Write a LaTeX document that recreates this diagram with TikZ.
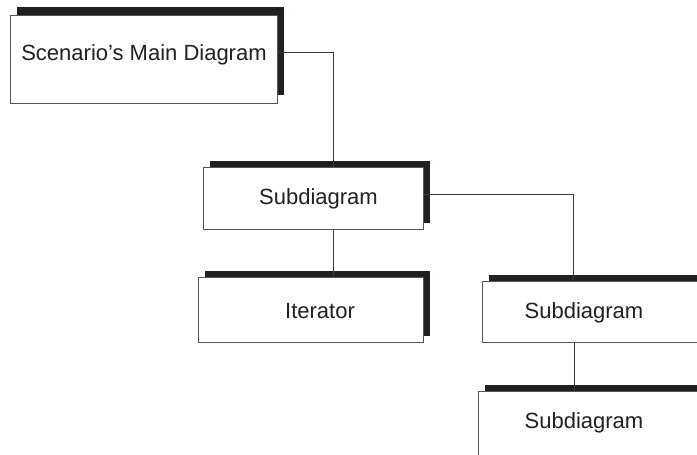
\documentclass[tikz,border=0pt]{standalone}
\usepackage{fontspec}
\setmainfont{Liberation Sans}
\usepackage{tikz}
\usetikzlibrary{positioning, calc, shadows}
\definecolor{sombra}{HTML}{231F20}
\definecolor{borde}{HTML}{555555}
\definecolor{linea}{HTML}{3A3A3A}
\definecolor{texto}{HTML}{231F20}
\tikzset{
  caja/.style={rectangle, draw=borde, line width=1pt, fill=white, inner sep=0pt,
    drop shadow={shadow xshift=7pt, shadow yshift=#1, opacity=1, fill=sombra}},
  caja/.default=6pt,
  etiqueta/.style={font=\fontsize{22}{26}\selectfont, text=texto, inner sep=0pt,
    text height=15.75pt, text depth=0pt},
  conector/.style={draw=linea, line width=1pt}
}

\begin{document}
\begin{tikzpicture}[x=1pt, y=-1pt]
    \useasboundingbox (0,0) rectangle (697,455);
    \clip (0,0) rectangle (697,455);

    % ==========================================
    % 1. Cajas con sombra
    % ==========================================
    \node[caja=8pt, minimum width=267pt, minimum height=88pt] (principal) at (143.5, 59) {};
    \node[caja, minimum width=220pt, minimum height=62pt] (sub1) at (313, 198) {};
    \node[caja, minimum width=225pt, minimum height=65pt] (iter) at (310.5, 309.5) {};
    \node[caja, minimum width=225pt, minimum height=61pt] (sub2) at (594.5, 311.5) {};
    \node[caja, minimum width=225pt, minimum height=70pt] (sub3) at (590.5, 426) {};

    % Textos dentro de las cajas
    \node[etiqueta] (tprincipal) at (144, 53) {Scenario’s Main Diagram};
    \node[etiqueta] (tsub1) at (318.5, 196.5) {Subdiagram};
    \node[etiqueta] (titer) at (320, 311) {Iterator};
    \node[etiqueta] (tsub2) at (584, 311) {Subdiagram};
    \node[etiqueta] (tsub3) at (584, 420.5) {Subdiagram};

    % ==========================================
    % 2. Conexiones
    % ==========================================
    \draw[conector] ([yshift=7pt]principal.east) -| ([xshift=20pt]sub1.north);
    \draw[conector] ([xshift=20pt]sub1.south) -- ([xshift=20pt]sub1.south |- iter.north);
    \draw[conector] ([yshift=4pt]sub1.east) -| ([xshift=-21.5pt]sub2.north);
    \draw[conector] ([xshift=-20.5pt]sub2.south) -- ([xshift=-20.5pt]sub2.south |- sub3.north);

\end{tikzpicture}
\end{document}
